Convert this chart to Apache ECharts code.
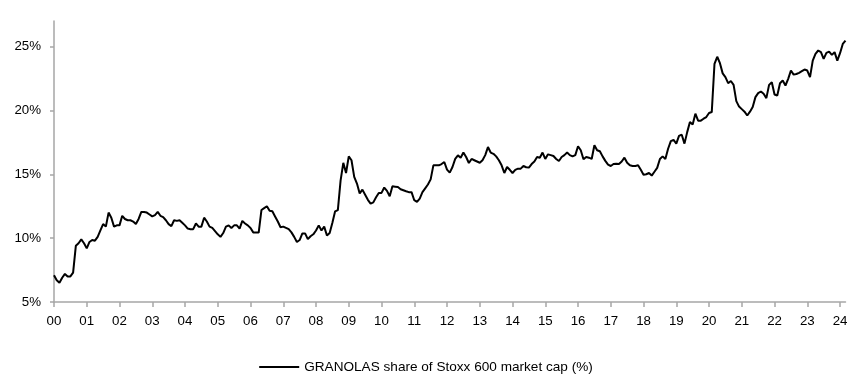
<!DOCTYPE html>
<html>
<head>
<meta charset="utf-8">
<script src="https://cdn.jsdelivr.net/npm/echarts@6/dist/echarts.min.js"></script>
<style>
html,body{margin:0;padding:0;background:#fff;}
#chart{width:852px;height:392px;}
</style>
</head>
<body>
<div id="chart"></div>
<script>
// Monthly observations, Jan 2000 .. Mar 2024
const startYear = 2000;
const yearLabels = ["00","01","02","03","04","05","06","07","08","09","10","11","12","13","14","15","16","17","18","19","20","21","22","23","24"];
const seriesName = "GRANOLAS share of Stoxx 600 market cap (%)";
const yTicks = [5, 10, 15, 20, 25];

const v2000 = [7.1,6.7,6.5,6.9,7.2,7.0,7.0,7.3,9.4,9.6,9.9,9.6];
const v2001 = [9.2,9.7,9.85,9.8,10.1,10.6,11.1,10.9,12.0,11.6,10.9,11.0];
const v2002 = [11.0,11.75,11.5,11.4,11.4,11.3,11.1,11.5,12.05,12.05,12.0,11.85];
const v2003 = [11.7,11.8,12.05,11.75,11.65,11.4,11.1,10.94,11.4,11.35,11.4,11.2];
const v2004 = [11.0,10.75,10.7,10.7,11.15,10.9,10.9,11.6,11.3,10.9,10.8,10.55];
const v2005 = [10.3,10.1,10.4,10.9,11.0,10.8,11.0,11.0,10.75,11.35,11.15,11.0];
const v2006 = [10.8,10.45,10.45,10.44,12.2,12.35,12.5,12.15,12.1,11.7,11.3,10.85];
const v2007 = [10.9,10.8,10.7,10.45,10.1,9.7,9.85,10.37,10.37,9.92,10.15,10.3];
const v2008 = [10.6,11.0,10.6,10.9,10.2,10.4,11.2,12.1,12.2,14.5,15.9,15.1];
const v2009 = [16.4,16.1,14.8,14.27,13.5,13.8,13.4,13.0,12.7,12.8,13.2,13.54];
const v2010 = [13.54,13.96,13.7,13.28,14.06,14.03,14.0,13.83,13.75,13.67,13.6,13.6];
const v2011 = [12.97,12.84,13.1,13.6,13.9,14.2,14.6,15.7,15.7,15.7,15.8,15.96];
const v2012 = [15.37,15.13,15.57,16.2,16.48,16.3,16.7,16.35,15.88,16.2,16.1,16.0];
const v2013 = [15.9,16.1,16.5,17.13,16.7,16.6,16.4,16.1,15.7,15.1,15.57,15.35];
const v2014 = [15.1,15.35,15.44,15.44,15.65,15.55,15.52,15.8,16.0,16.35,16.3,16.7];
const v2015 = [16.2,16.56,16.5,16.43,16.2,16.04,16.35,16.5,16.7,16.5,16.4,16.5];
const v2016 = [17.19,16.88,16.17,16.35,16.3,16.2,17.27,16.88,16.8,16.4,16.05,15.75];
const v2017 = [15.65,15.8,15.83,15.8,16.0,16.3,15.9,15.7,15.65,15.65,15.7,15.35];
const v2018 = [14.97,15.0,15.1,14.9,15.2,15.5,16.2,16.4,16.2,17.0,17.6,17.7];
const v2019 = [17.4,18.0,18.1,17.4,18.3,19.09,18.9,19.74,19.2,19.2,19.35,19.48];
const v2020 = [19.8,19.87,23.65,24.2,23.7,22.9,22.6,22.13,22.3,22.0,20.73,20.3];
const v2021 = [20.1,19.9,19.6,19.9,20.26,21.04,21.35,21.48,21.3,20.96,22.0,22.2];
const v2022 = [21.25,21.17,22.13,22.34,21.95,22.47,23.12,22.8,22.85,22.94,23.07,23.2];
const v2023 = [23.12,22.6,23.9,24.43,24.69,24.56,24.04,24.5,24.6,24.35,24.56,23.9];
const v2024 = [24.48,25.2,25.47];

const values = [].concat(v2000,v2001,v2002,v2003,v2004,v2005,v2006,v2007,v2008,v2009,
  v2010,v2011,v2012,v2013,v2014,v2015,v2016,v2017,v2018,v2019,v2020,v2021,v2022,v2023,v2024);

const categories = values.map((_, i) => {
  const y = startYear + Math.floor(i / 12);
  const m = (i % 12) + 1;
  return y + '-' + (m < 10 ? '0' + m : m);
});

const isYearStart = (idx) => idx % 12 === 0;
const axisGray = '#a6a6a6';
const font = '"Liberation Sans", Arial, sans-serif';

const chart = echarts.init(document.getElementById('chart'), null, {renderer: 'canvas'});
chart.setOption({
  animation: false,
  backgroundColor: '#ffffff',
  grid: {left: 54, right: 6.5, top: 21, bottom: 90, containLabel: false},
  legend: {
    data: [seriesName],
    bottom: 13,
    left: 'center',
    itemWidth: 40,
    itemHeight: 12,
    itemGap: 10,
    icon: 'path://M0,0 L40,0 L40,2 L0,2 Z',
    itemStyle: {color: '#000'},
    textStyle: {fontFamily: font, fontSize: 13.6, color: '#000'}
  },
  xAxis: {
    type: 'category',
    boundaryGap: false,
    data: categories,
    axisLine: {lineStyle: {color: axisGray, width: 1.5}},
    axisTick: {show: true, length: 5, inside: false, interval: isYearStart, lineStyle: {color: axisGray, width: 1.5}},
    axisLabel: {
      interval: isYearStart,
      margin: 13,
      fontFamily: font, fontSize: 13.3, color: '#000',
      formatter: (val, idx) => yearLabels[Math.floor(idx / 12)]
    },
    splitLine: {show: false}
  },
  yAxis: {
    type: 'value',
    min: 5,
    max: 27,
    interval: 5,
    axisLine: {show: true, lineStyle: {color: axisGray, width: 1.5}},
    axisTick: {show: true, length: 4, customValues: yTicks, lineStyle: {color: axisGray, width: 1.5}},
    axisLabel: {
      customValues: yTicks,
      margin: 13,
      fontFamily: font, fontSize: 13.3, color: '#000',
      formatter: (v) => v + '%'
    },
    splitLine: {show: false}
  },
  series: [{
    name: seriesName,
    type: 'line',
    data: values,
    symbol: 'none',
    showSymbol: false,
    lineStyle: {color: '#000', width: 2},
    itemStyle: {color: '#000'}
  }]
});
</script>
</body>
</html>
